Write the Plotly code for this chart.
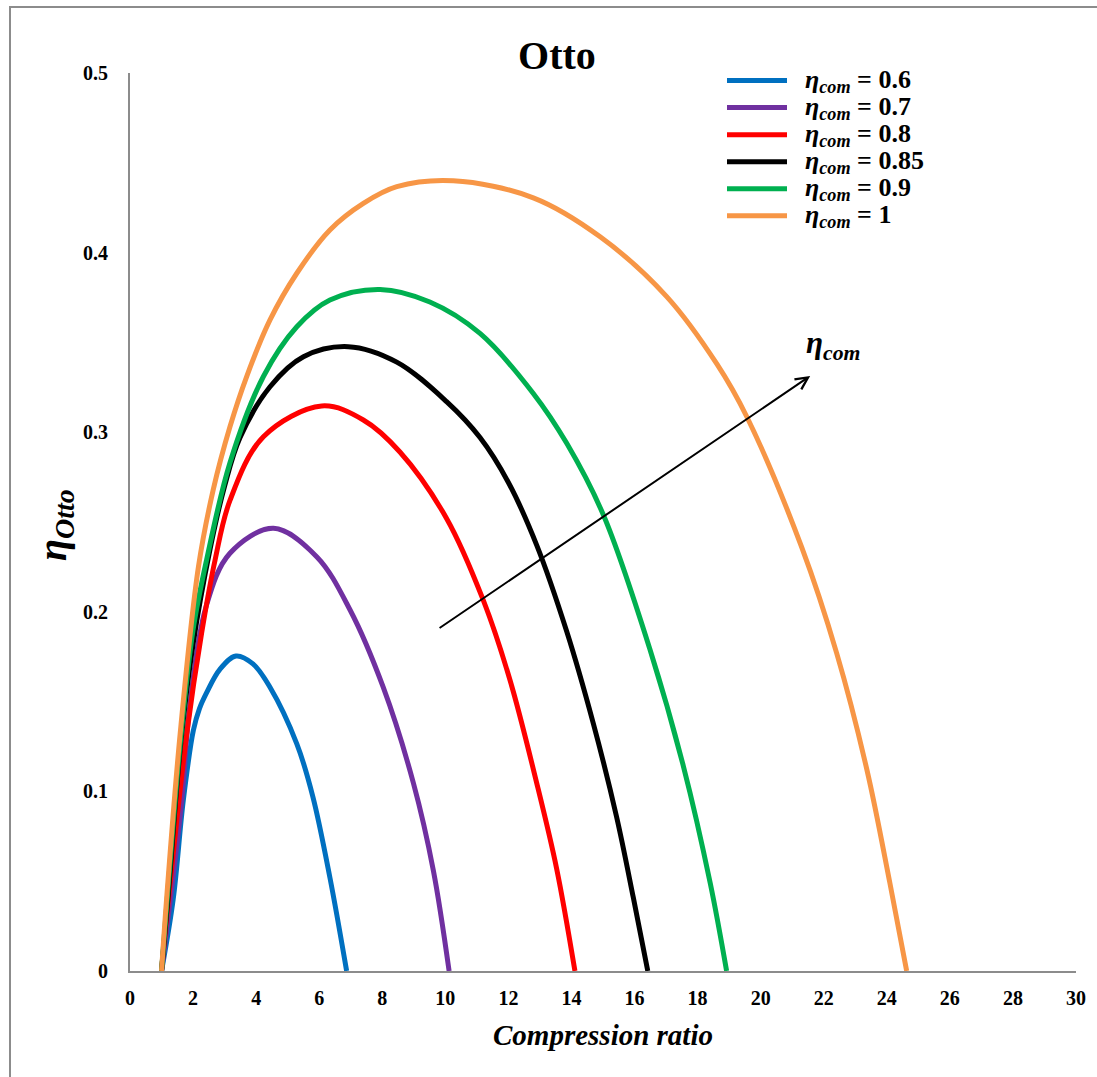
import plotly.graph_objects as go

# ---- data ----
labels = ["0.6", "0.7", "0.8", "0.85", "0.9", "1"]
colors = ["#0070C0", "#7030A0", "#FF0000", "#000000", "#00B050", "#F79646"]

x_06 = [1, 1.37, 1.69, 2.01, 2.2, 2.43, 2.85, 3.36, 3.9, 4.44, 5.29, 5.8, 6.34, 6.87]
y_06 = [0, 0.04, 0.095, 0.134, 0.146, 0.155, 0.168, 0.1754, 0.171, 0.158, 0.1265, 0.097, 0.052, 0]

x_07 = [1, 1.28, 1.64, 1.90, 2.43, 3.17, 4.55, 5.92, 6.98, 8.03, 8.99, 9.62, 10.12]
y_07 = [0, 0.04, 0.095, 0.148, 0.204, 0.2326, 0.2465, 0.2307, 0.201, 0.158, 0.1045, 0.056, 0]

x_08 = [1, 1.22, 1.8, 2.27, 2.70, 3.17, 4.23, 6.08, 7.40, 8.56, 10.04, 11.2, 12.05, 12.9, 13.53, 14.11]
y_08 = [0, 0.04, 0.132, 0.188, 0.229, 0.262, 0.2975, 0.3146, 0.3068, 0.289, 0.252, 0.2066, 0.162, 0.1045, 0.057, 0]

x_085 = [1, 1.2, 1.6, 2.0, 2.54, 3.0, 3.49, 4.44, 5.50, 6.92, 8.46, 10.04, 11.10, 12.0, 12.9, 13.85, 14.69, 15.43, 15.96, 16.42]
y_085 = [0, 0.04, 0.125, 0.182, 0.235, 0.27, 0.297, 0.3253, 0.342, 0.3476, 0.339, 0.317, 0.297, 0.272, 0.237, 0.189, 0.138, 0.0859, 0.041, 0]

x_09 = [1, 1.18, 1.6, 2.0, 2.43, 3.17, 4.23, 5.29, 6.34, 7.93, 9.51, 11.10, 12.79, 13.85, 15.01, 16.49, 17.55, 18.40, 18.92]
y_09 = [0, 0.04, 0.128, 0.19, 0.229, 0.283, 0.331, 0.3587, 0.3736, 0.3795, 0.3725, 0.355, 0.3216, 0.2938, 0.254, 0.179, 0.114, 0.049, 0]

x_10 = [1, 1.16, 1.59, 2.17, 2.64, 3.17, 3.70, 4.44, 5.29, 6.34, 7.40, 8.46, 10.25, 12.79, 14.91, 17.02, 18.61, 19.56, 21.3, 22.41, 23.37, 24.10, 24.63]
y_10 = [0, 0.04, 0.132, 0.225, 0.268, 0.303, 0.331, 0.3625, 0.3885, 0.4126, 0.4274, 0.4367, 0.440, 0.4305, 0.4088, 0.3755, 0.338, 0.3086, 0.236, 0.177, 0.112, 0.0488, 0]

xs = [x_06, x_07, x_08, x_085, x_09, x_10]
ys = [y_06, y_07, y_08, y_085, y_09, y_10]

x_ticks = list(range(0, 31, 2))
y_ticks = [0, 0.1, 0.2, 0.3, 0.4, 0.5]
y_ticktext = ["0", "0.1", "0.2", "0.3", "0.4", "0.5"]

# arrow (data coordinates)
arrow_start = (9.77, 0.1904)
arrow_end = (21.57, 0.3313)

SERIF = "Liberation Serif"

fig = go.Figure()
for xv, yv, lab, col in zip(xs, ys, labels, colors):
    fig.add_trace(go.Scatter(
        x=xv, y=yv, mode="lines",
        line=dict(color=col, width=5, shape="spline", smoothing=1.0),
        name=(f"<span style='font-size:26px'><b>\u00a0\u00a0<i>η</i><sub><i>com</i></sub>"
              f" = {lab}</b></span>"),
    ))

fig.update_layout(
    width=1097, height=1077,
    margin=dict(l=130, r=21, t=73, b=106),
    paper_bgcolor="white", plot_bgcolor="white",
    title=dict(text="<b>Otto</b>", x=557 / 1097, xanchor="center",
               y=1 - 55 / 1077, yanchor="middle",
               font=dict(family=SERIF, size=40, color="black")),
    legend=dict(x=(722 - 130) / 946, y=(971 - 62) / 898, xanchor="left", yanchor="top",
                font=dict(family=SERIF, size=18.5, color="black"),
                itemwidth=60,
                bgcolor="rgba(0,0,0,0)", tracegroupgap=0),
    showlegend=True,
)
fig.update_xaxes(range=[0, 30], tickvals=x_ticks, showgrid=False, zeroline=False,
                 showline=True, linecolor="#8c8c8c", linewidth=2, ticks="",
                 tickfont=dict(family=SERIF, size=20, color="black", weight="bold"),
                 ticklabelstandoff=8)
fig.update_yaxes(range=[0, 0.5], tickvals=y_ticks, ticktext=y_ticktext, showgrid=False,
                 zeroline=False, showline=True, linecolor="#8c8c8c", linewidth=2, ticks="",
                 tickfont=dict(family=SERIF, size=20, color="black", weight="bold"),
                 ticklabelstandoff=16)

fig.add_annotation(x=arrow_end[0], y=arrow_end[1], ax=arrow_start[0], ay=arrow_start[1],
                   xref="x", yref="y", axref="x", ayref="y", text="",
                   showarrow=True, arrowhead=5, arrowsize=1.2, arrowwidth=2, arrowcolor="black")
fig.add_annotation(x=(833 - 130) / 946, y=(971 - 345) / 898, xref="paper", yref="paper",
                   xanchor="center", yanchor="middle",
                   text="<b><i>η</i><sub><i>com</i></sub></b>", showarrow=False,
                   font=dict(family=SERIF, size=31, color="black"))
fig.add_annotation(x=(603 - 130) / 946, y=(971 - 1035) / 898, xref="paper", yref="paper",
                   xanchor="center", yanchor="middle",
                   text="<b><i>Compression ratio</i></b>", showarrow=False,
                   font=dict(family=SERIF, size=29, color="black"))
fig.add_annotation(x=(55 - 130) / 946, y=(971 - 525) / 898, xref="paper", yref="paper",
                   xanchor="center", yanchor="middle",
                   text="<b><i>η</i><sub><i>Otto</i></sub></b>", showarrow=False, textangle=-90,
                   font=dict(family=SERIF, size=40, color="black"))

fig.add_shape(type="rect", xref="paper", yref="paper",
              x0=(10 - 130) / 946, x1=(1110 - 130) / 946,
              y0=(971 - 1090) / 898, y1=(971 - 7) / 898,
              line=dict(color="#8c8c8c", width=2), fillcolor="rgba(0,0,0,0)", layer="below")

fig.write_html("out.html", config={"displayModeBar": False},
               post_script="document.body.style.margin='0';")
